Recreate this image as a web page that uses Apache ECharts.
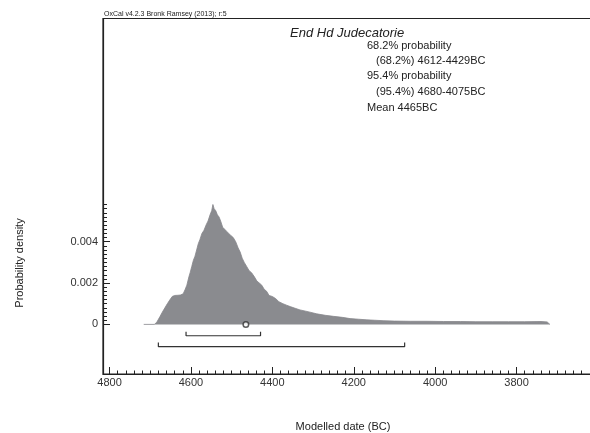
<!DOCTYPE html>
<html>
<head>
<meta charset="utf-8">
<script src="https://cdn.jsdelivr.net/npm/echarts@6/dist/echarts.min.js"></script>
<style>
  html, body { margin: 0; padding: 0; background: #fff; }
  #chart { width: 590px; height: 433px; }
</style>
</head>
<body>
<div id="chart"></div>
<script>
// 数据
var years = [4716, 4690, 4684, 4676, 4670, 4664, 4658, 4652, 4646, 4640, 4632, 4626, 4619, 4614, 4610,
    4605, 4602, 4598, 4594, 4590, 4586, 4582, 4578, 4573, 4568, 4563, 4558, 4553, 4549, 4546, 4543,
    4539, 4535, 4531, 4527, 4522, 4517, 4512, 4507, 4502, 4496, 4490, 4484, 4479, 4474, 4469, 4463,
    4457, 4451, 4444, 4438, 4432, 4426, 4420, 4414, 4408, 4400, 4392, 4384, 4374, 4365, 4356, 4344,
    4332, 4318, 4305, 4291, 4270, 4250, 4228, 4209, 4188, 4168, 4148, 4128, 4100, 4061, 4020, 3980,
    3938, 3900, 3860, 3820, 3780, 3740, 3725, 3718];
var density = [0, 0, 0.0001, 0.00038, 0.0006, 0.0008, 0.001, 0.00118, 0.00135, 0.0014, 0.00141, 0.00142, 0.00148, 0.0017, 0.0019,
    0.0023, 0.0025, 0.0028, 0.0031, 0.0033, 0.0036, 0.0039, 0.0041, 0.0044, 0.00455, 0.0048, 0.005, 0.0053, 0.0055, 0.0058, 0.0056,
    0.0055, 0.0053, 0.0052, 0.005, 0.0047, 0.0046, 0.0045, 0.0044, 0.0043, 0.0042, 0.004, 0.0037, 0.0035, 0.0032, 0.003, 0.0028,
    0.0026, 0.0025, 0.0023, 0.0021, 0.002, 0.0019, 0.0017, 0.0016, 0.0014, 0.00135, 0.00125, 0.0011, 0.001, 0.00093, 0.00086, 0.00078,
    0.0007, 0.00064, 0.00058, 0.00051, 0.00044, 0.00039, 0.00034, 0.00028, 0.00025, 0.00022, 0.0002, 0.00018, 0.00016, 0.00015, 0.00015, 0.00014,
    0.00014, 0.00013, 0.00013, 0.00013, 0.00013, 0.00014, 0.00012, 0];
var range68 = [4612, 4429];
var range95 = [4680, 4075];
var meanYear = 4465;
var xTicks = [4800, 4600, 4400, 4200, 4000, 3800];
var yTicks = [0, 0.002, 0.004];

(function() {
    var myChart = echarts.init(document.getElementById("chart"));
    var font = "Liberation Sans, Arial, sans-serif";
    var ink = "#222";

    var curve = years.map(function(y, i) { return [y, density[i]]; });

    // 小刻度
    var xMinor = [];
    for (var v = 4800; v >= 3600; v -= 20) xMinor.push(v);
    var yMinor = [];
    for (var k = 0; k <= 29; k++) yMinor.push(+(k * 0.0002).toFixed(4));

    // 区间括号
    function bracket(r, yb, tip) {
        return [[r[0], tip], [r[0], yb], [r[1], yb], [r[1], tip]];
    }

    var baseX = {
        type: 'value', min: 3600, max: 4816, inverse: true, position: 'bottom',
        splitLine: { show: false }
    };
    var baseY = {
        type: 'value', min: -0.0024, max: 0.0148, position: 'left',
        splitLine: { show: false }
    };

    var option = {
        animation: false,
        grid: {
            left: 103, top: 18.5, width: 495, height: 355.5,
            outerBoundsMode: 'none',
            show: true, borderColor: ink, borderWidth: 1.2
        },
        xAxis: [
            Object.assign({}, baseX, {
                axisLine: { show: true, onZero: false, lineStyle: { color: ink, width: 1.2 } },
                axisTick: { show: true, inside: true, length: 7, customValues: xTicks, lineStyle: { color: ink } },
                axisLabel: {
                    customValues: xTicks, margin: 3, color: "#333", fontSize: 11, fontFamily: font,
                    formatter: function(v) { return String(v); }
                }
            }),
            Object.assign({}, baseX, {
                axisLine: { show: false, onZero: false },
                axisTick: { show: true, inside: true, length: 3.5, customValues: xMinor, lineStyle: { color: ink } },
                axisLabel: { show: false }
            })
        ],
        yAxis: [
            Object.assign({}, baseY, {
                axisLine: { show: true, onZero: false, lineStyle: { color: ink, width: 1.2 } },
                axisTick: { show: true, inside: true, length: 7, customValues: yTicks, lineStyle: { color: ink } },
                axisLabel: {
                    customValues: yTicks, margin: 5, color: "#333", fontSize: 11, fontFamily: font,
                    formatter: function(v) { return String(v); }
                }
            }),
            Object.assign({}, baseY, {
                axisLine: { show: false, onZero: false },
                axisTick: { show: true, inside: true, length: 4, customValues: yMinor, lineStyle: { color: ink } },
                axisLabel: { show: false }
            })
        ],
        series: [{
            type: 'line',
            data: curve,
            showSymbol: false,
            lineStyle: { color: '#86878b', width: 0.8 },
            areaStyle: { color: '#8a8b8f', opacity: 1 },
            z: 2
        }, {
            type: 'line',
            data: bracket(range68, -0.00055, -0.00036),
            showSymbol: false,
            lineStyle: { color: '#333', width: 1.2 }
        }, {
            type: 'line',
            data: bracket(range95, -0.00108, -0.00088),
            showSymbol: false,
            lineStyle: { color: '#333', width: 1.2 }
        }, {
            type: 'scatter',
            data: [[meanYear, 0]],
            symbol: 'circle',
            symbolSize: 5.5,
            itemStyle: { color: '#fff', borderColor: '#333', borderWidth: 1.5 },
            z: 5
        }],
        graphic: [
            { type: 'text', x: 104, y: 14, style: { text: "OxCal v4.2.3 Bronk Ramsey (2013); r:5", font: "7px " + font, fill: ink, textVerticalAlign: 'middle' } },
            { type: 'text', x: 290, y: 33, style: { text: "End Hd Judecatorie", font: "italic 13px " + font, fill: ink, textVerticalAlign: 'middle' } },
            { type: 'text', x: 367, y: 46, style: { text: "68.2% probability", font: "11px " + font, fill: ink, textVerticalAlign: 'middle' } },
            { type: 'text', x: 376, y: 61, style: { text: "(68.2%) " + range68[0] + "-" + range68[1] + "BC", font: "11px " + font, fill: ink, textVerticalAlign: 'middle' } },
            { type: 'text', x: 367, y: 76, style: { text: "95.4% probability", font: "11px " + font, fill: ink, textVerticalAlign: 'middle' } },
            { type: 'text', x: 376, y: 92, style: { text: "(95.4%) " + range95[0] + "-" + range95[1] + "BC", font: "11px " + font, fill: ink, textVerticalAlign: 'middle' } },
            { type: 'text', x: 367, y: 108, style: { text: "Mean " + meanYear + "BC", font: "11px " + font, fill: ink, textVerticalAlign: 'middle' } },
            { type: 'text', x: 343, y: 427, style: { text: "Modelled date (BC)", font: "11px " + font, fill: ink, textAlign: 'center', textVerticalAlign: 'middle' } },
            { type: 'text', x: 20, y: 263, rotation: Math.PI / 2, style: { text: "Probability density", font: "11px " + font, fill: ink, textAlign: 'center', textVerticalAlign: 'middle' } }
        ]
    };

    myChart.setOption(option);
})();
</script>
</body>
</html>
